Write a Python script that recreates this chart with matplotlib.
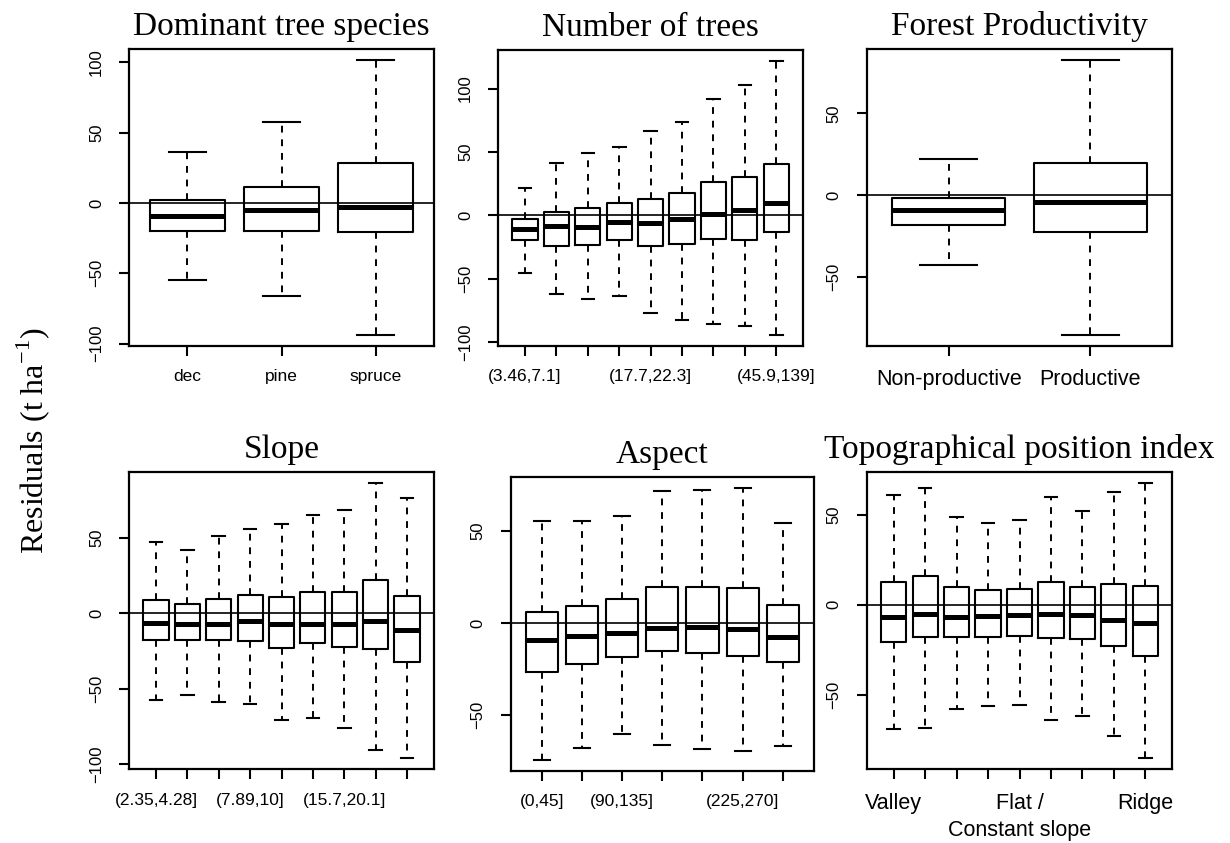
import numpy as np
import matplotlib.pyplot as plt

plt.rcParams['font.family'] = 'Liberation Sans'

## box summaries, one row per box: whisker low, lower hinge, median, upper hinge, whisker high
species_labels = ["dec", "pine", "spruce"]
species_stats = [
    [-54.5, -20.1, -9.2, 2.4, 36.3],
    [-65.9, -19.6, -5.2, 11.0, 57.2],
    [-93.6, -20.8, -3.0, 28.0, 101.3],
]

ntrees_labels = ["(3.46,7.1]", "", "", "", "(17.7,22.3]", "", "", "", "(45.9,139]"]
ntrees_stats = [
    [-45.4, -19.7, -10.5, -3.1, 21.5],
    [-61.7, -24.1, -8.1, 2.6, 41.2],
    [-66.1, -23.1, -8.7, 6.0, 49.6],
    [-63.3, -19.2, -5.2, 10.0, 53.8],
    [-76.6, -23.9, -6.0, 13.1, 66.4],
    [-82.2, -22.6, -2.6, 17.8, 74.0],
    [-85.3, -18.6, 0.8, 26.0, 91.9],
    [-87.4, -19.2, 4.2, 30.2, 103.1],
    [-94.0, -13.4, 9.7, 40.7, 121.8],
]

prod_labels = ["Non-productive", "Productive"]
prod_stats = [
    [-42.4, -17.9, -8.7, -1.8, 22.4],
    [-85.1, -22.4, -4.1, 19.6, 82.5],
]

slope_labels = ["(2.35,4.28]", "", "", "(7.89,10]", "", "", "(15.7,20.1]", "", ""]
slope_stats = [
    [-57.2, -17.7, -6.2, 8.6, 47.3],
    [-53.9, -17.9, -7.3, 6.2, 42.0],
    [-58.8, -17.9, -7.1, 9.9, 51.7],
    [-60.3, -18.6, -5.1, 11.9, 56.3],
    [-70.7, -22.8, -7.1, 10.6, 59.6],
    [-69.6, -19.7, -7.1, 13.9, 65.2],
    [-75.8, -22.0, -7.1, 14.4, 68.5],
    [-90.5, -23.3, -5.1, 21.9, 86.4],
    [-96.2, -32.3, -11.0, 11.5, 76.8],
]

aspect_labels = ["(0,45]", "", "(90,135]", "", "", "(225,270]", ""]
aspect_stats = [
    [-74.1, -26.7, -9.0, 6.1, 55.1],
    [-67.6, -22.2, -7.0, 9.0, 55.1],
    [-60.2, -18.4, -5.4, 13.0, 58.0],
    [-66.3, -15.3, -2.5, 19.5, 71.5],
    [-68.5, -16.4, -2.2, 19.5, 72.1],
    [-69.4, -17.7, -3.1, 19.1, 73.3],
    [-66.8, -21.1, -7.4, 9.9, 54.2],
]

tpi_labels = ["Valley", "", "", "", "Flat /\nConstant slope", "", "", "", "Ridge"]
tpi_stats = [
    [-69.3, -20.5, -7.0, 12.6, 61.0],
    [-68.4, -17.9, -5.2, 16.1, 64.7],
    [-58.0, -17.7, -7.0, 9.6, 48.6],
    [-56.4, -17.9, -6.1, 8.1, 45.3],
    [-55.5, -17.4, -5.5, 8.5, 47.1],
    [-64.1, -18.7, -5.0, 12.9, 59.7],
    [-61.7, -19.0, -5.7, 9.8, 52.1],
    [-73.0, -22.7, -8.3, 11.6, 62.8],
    [-85.4, -28.7, -10.0, 10.2, 67.5],
]

W, H = 1230, 843
fig = plt.figure(figsize=(W / 100, H / 100), dpi=100)

# title, labels, stats, y ticks, x label size, axes box in pixels (x0, y0, x1, y1)
panels = [
    ("Dominant tree species", species_labels, species_stats, [-100, -50, 0, 50, 100], 12.5, (129, 49.3, 434, 345.7)),
    ("Number of trees", ntrees_labels, ntrees_stats, [-100, -50, 0, 50, 100], 12.5, (498, 50, 803.3, 345.7)),
    ("Forest Productivity", prod_labels, prod_stats, [-50, 0, 50], 15.5, (866.7, 49.3, 1172.3, 345.7)),
    ("Slope", slope_labels, slope_stats, [-100, -50, 0, 50], 12.5, (129, 472.3, 434, 769.3)),
    ("Aspect", aspect_labels, aspect_stats, [-50, 0, 50], 12.5, (510.7, 476.7, 814, 770.7)),
    ("Topographical position index", tpi_labels, tpi_stats, [-50, 0, 50], 15.5, (866.7, 472.3, 1172.3, 769.3)),
]

for title, labels, stats, yticks, xsize, (x0, y0, x1, y1) in panels:
    ax = fig.add_axes([x0 / W, 1 - y1 / H, (x1 - x0) / W, (y1 - y0) / H])
    n = len(stats)
    bxstats = [dict(whislo=s[0], q1=s[1], med=s[2], q3=s[3], whishi=s[4], fliers=[])
               for s in stats]
    ax.margins(y=0.04)
    ax.bxp(bxstats, positions=np.arange(1, n + 1), widths=0.8, showfliers=False,
           manage_ticks=False,
           boxprops=dict(color='black', linewidth=1.5),
           medianprops=dict(color='black', linewidth=3.6, solid_capstyle='butt'),
           whiskerprops=dict(color='black', linewidth=1.4, linestyle=(0, (3.5, 3.5))),
           capprops=dict(color='black', linewidth=1.5))
    ax.axhline(0, color='black', linewidth=1.2, zorder=0.5)
    ax.set_xlim(0.5 - 0.04 * n, n + 0.5 + 0.04 * n)

    ax.set_xticks(np.arange(1, n + 1), labels, fontsize=xsize)
    for lbl in ax.get_xticklabels():
        lbl.set_linespacing(1.35)
    ax.set_yticks(yticks)
    ax.set_yticklabels([str(v).replace('-', '\u2212') for v in yticks],
                       fontsize=12, rotation=90, va='center')
    ax.tick_params(length=7, width=1.5, color='black')
    ax.tick_params(axis='x', pad=10)
    ax.tick_params(axis='y', pad=11)
    for sp in ax.spines.values():
        sp.set_linewidth(1.6)
    ax.set_title(title, fontsize=24, family='Liberation Serif', pad=10)

fig.text(33 / W, 1 - 441 / H, r"Residuals (t ha$^{\mathregular{-1}}$)", rotation=90,
         ha='center', va='center', fontsize=23, family='Liberation Serif')

plt.savefig('out.png', dpi=100)
